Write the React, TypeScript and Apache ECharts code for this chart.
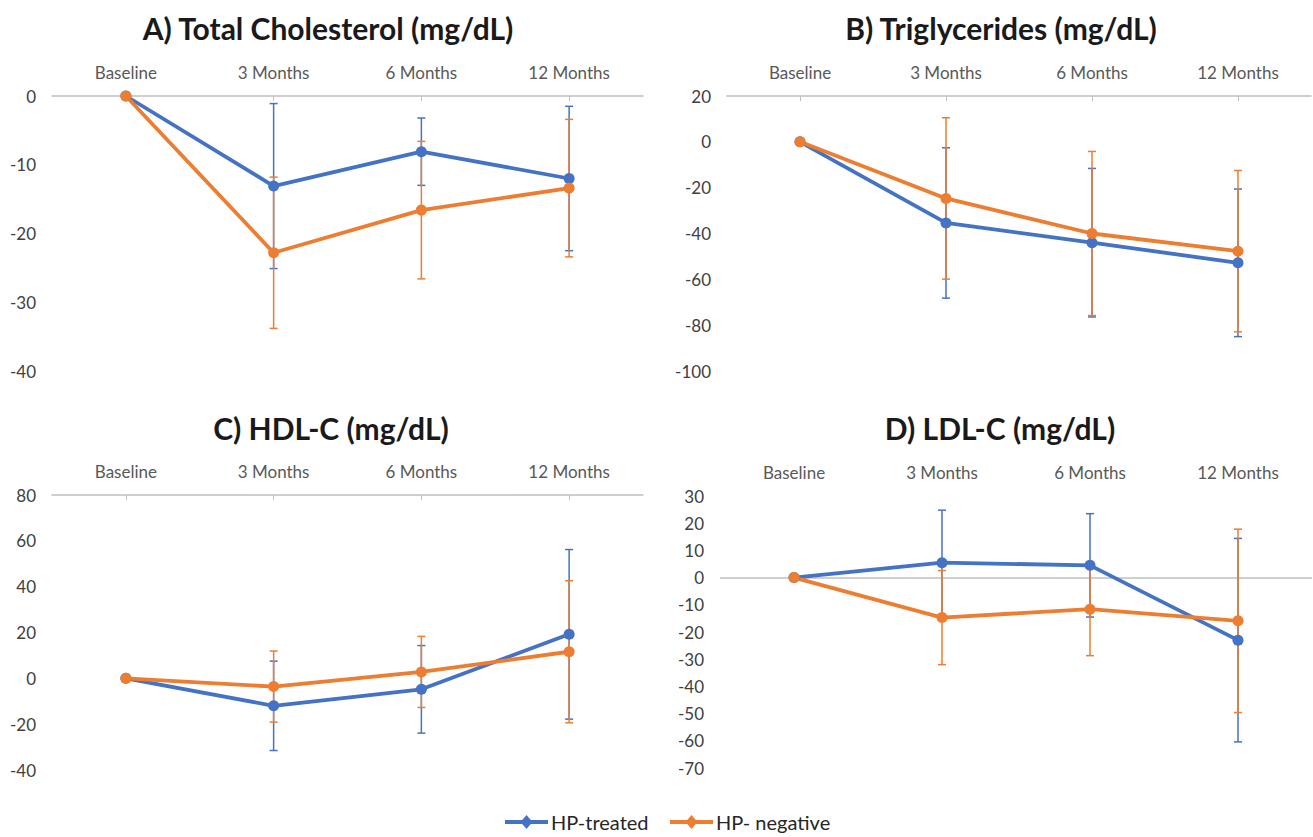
import React, { useEffect, useRef } from "react";
import * as echarts from "echarts";

const categories = ["Baseline", "3 Months", "6 Months", "12 Months"];
const seriesNames = ["HP-treated", "HP- negative"];

// A) Total Cholesterol
const tcTreated = [0, -13.1, -8.1, -12.0];
const tcTreatedErr = [0, 12.0, 4.9, 10.5];
const tcNegative = [0, -22.8, -16.6, -13.4];
const tcNegativeErr = [0, 11.0, 10.0, 10.0];

// B) Triglycerides
const tgTreated = [0, -35.4, -44.0, -52.8];
const tgTreatedErr = [0, 32.8, 32.4, 32.2];
const tgNegative = [0, -24.7, -40.0, -47.7];
const tgNegativeErr = [0, 35.2, 35.8, 35.2];

// C) HDL-C
const hdlTreated = [0, -12.0, -4.8, 19.2];
const hdlTreatedErr = [0, 19.5, 19.1, 37.0];
const hdlNegative = [0, -3.6, 2.8, 11.6];
const hdlNegativeErr = [0, 15.5, 15.5, 31.0];

// D) LDL-C
const ldlTreated = [0, 5.5, 4.5, -23.0];
const ldlTreatedErr = [0, 19.3, 19.0, 37.4];
const ldlNegative = [0, -14.7, -11.6, -15.9];
const ldlNegativeErr = [0, 17.3, 17.1, 33.7];

const titles = [
  "A) Total Cholesterol (mg/dL)",
  "B) Triglycerides (mg/dL)",
  "C) HDL-C (mg/dL)",
  "D) LDL-C (mg/dL)",
];
const yMin = [-40, -100, -40, -70];
const yMax = [0, 20, 80, 30];
const yStep = [10, 20, 20, 10];

const BLUE = "#4472C4";
const ORANGE = "#ED7D31";
const FONT = "Lato, 'Open Sans', sans-serif";

const panels = [
  { t: tcTreated, te: tcTreatedErr, n: tcNegative, ne: tcNegativeErr },
  { t: tgTreated, te: tgTreatedErr, n: tgNegative, ne: tgNegativeErr },
  { t: hdlTreated, te: hdlTreatedErr, n: hdlNegative, ne: hdlNegativeErr },
  { t: ldlTreated, te: ldlTreatedErr, n: ldlNegative, ne: ldlNegativeErr },
];

const grids = [
  { left: 52, top: 96, width: 591, height: 275 },
  { left: 727, top: 96, width: 584, height: 275 },
  { left: 52, top: 495, width: 591, height: 275 },
  { left: 720, top: 496, width: 592, height: 272 },
];
const titlePos = [
  [328, 28],
  [1001, 28],
  [331, 428],
  [1000, 428],
];
// legend layout: [lineStartX, textStartX]
const legendPos = [
  [505, 551],
  [670, 716],
];
const legendY = 822;

function errorSeries(name: string, vals: number[], errs: number[], color: string, idx: number) {
  return {
    type: "custom",
    name: name + " error",
    xAxisIndex: idx,
    yAxisIndex: idx,
    z: 1,
    silent: true,
    data: vals.map((v, i) => [i, v - errs[i], v + errs[i]]),
    encode: { x: 0, y: [1, 2] },
    renderItem: (params: any, api: any) => {
      const i = api.value(0);
      const loV = api.value(1);
      const hiV = api.value(2);
      if (loV === hiV) return { type: "group", children: [] };
      const lo = api.coord([i, loV]);
      const hi = api.coord([i, hiV]);
      const half = 4;
      const style = { stroke: color, lineWidth: 1.5, fill: null };
      return {
        type: "group",
        children: [
          { type: "line", shape: { x1: hi[0], y1: hi[1], x2: lo[0], y2: lo[1] }, style },
          { type: "line", shape: { x1: hi[0] - half, y1: hi[1], x2: hi[0] + half, y2: hi[1] }, style },
          { type: "line", shape: { x1: lo[0] - half, y1: lo[1], x2: lo[0] + half, y2: lo[1] }, style },
        ],
      };
    },
  };
}

function lineSeries(name: string, vals: number[], color: string, idx: number, extra: any = {}) {
  return {
    type: "line",
    name,
    xAxisIndex: idx,
    yAxisIndex: idx,
    data: vals,
    z: 3,
    symbol: "circle",
    symbolSize: 11,
    color,
    itemStyle: { color },
    lineStyle: { color, width: 3.8 },
    ...extra,
  };
}

export default function App() {
  const ref = useRef<HTMLDivElement>(null);
  useEffect(() => {
    if (!ref.current) return;
    const chart = echarts.init(ref.current, null, { renderer: "svg" });

    const series: any[] = [];
    panels.forEach((p, idx) => {
      series.push(errorSeries(seriesNames[0], p.t, p.te, BLUE, idx));
      series.push(errorSeries(seriesNames[1], p.n, p.ne, ORANGE, idx));
      series.push(
        lineSeries(
          seriesNames[0],
          p.t,
          BLUE,
          idx,
          idx === 3
            ? {
                markLine: {
                  silent: true,
                  symbol: "none",
                  label: { show: false },
                  lineStyle: { color: "#BFBFBF", width: 1.5, type: "solid" },
                  data: [{ yAxis: 0 }],
                  z: 0,
                },
              }
            : {}
        )
      );
      series.push(lineSeries(seriesNames[1], p.n, ORANGE, idx));
    });

    const legendGraphics: any[] = [];
    [BLUE, ORANGE].forEach((c, i) => {
      const [lx, tx] = legendPos[i];
      const cx = lx + 21.5;
      legendGraphics.push({
        type: "line",
        shape: { x1: lx, y1: legendY, x2: lx + 43, y2: legendY },
        style: { stroke: c, lineWidth: 4 },
      });
      legendGraphics.push({
        type: "polygon",
        shape: { points: [[cx, legendY - 7], [cx + 6, legendY], [cx, legendY + 7], [cx - 6, legendY]] },
        style: { fill: c },
      });
      legendGraphics.push({
        type: "text",
        x: tx,
        y: legendY,
        style: {
          text: seriesNames[i],
          fill: "#262626",
          font: `20px ${FONT}`,
          textAlign: "left",
          textVerticalAlign: "middle",
        },
      });
    });

    chart.setOption({
      animation: false,
      backgroundColor: "#ffffff",
      textStyle: { fontFamily: FONT },
      grid: grids,
      xAxis: grids.map((g, idx) => ({
        type: "category",
        gridIndex: idx,
        position: "top",
        data: categories,
        boundaryGap: true,
        axisLine: { show: idx !== 3, onZero: false, lineStyle: { color: "#BFBFBF", width: 1.5 } },
        axisTick: { show: idx !== 3, alignWithLabel: true, inside: true, length: 5, lineStyle: { color: "#BFBFBF" } },
        axisLabel: { color: "#595959", fontSize: 17, margin: 15, fontFamily: FONT },
        splitLine: { show: false },
      })),
      yAxis: grids.map((g, idx) => ({
        type: "value",
        gridIndex: idx,
        min: yMin[idx],
        max: yMax[idx],
        interval: yStep[idx],
        axisLine: { show: false },
        axisTick: { show: false },
        splitLine: { show: false },
        axisLabel: { color: "#404040", fontSize: 17, margin: 16, fontFamily: FONT },
      })),
      graphic: [
        ...titles.map((t, idx) => ({
          type: "text",
          x: titlePos[idx][0],
          y: titlePos[idx][1],
          style: {
            text: t,
            fill: "#1a1a1a",
            font: `bold 30px ${FONT}`,
            textAlign: "center",
            textVerticalAlign: "middle",
          },
        })),
        ...legendGraphics,
      ],
      series,
    });

    return () => {
      chart.dispose();
    };
  }, []);

  return (
    <div
      ref={ref}
      style={{ position: "absolute", left: 0, top: 0, width: 1313, height: 837, background: "#fff" }}
    />
  );
}
